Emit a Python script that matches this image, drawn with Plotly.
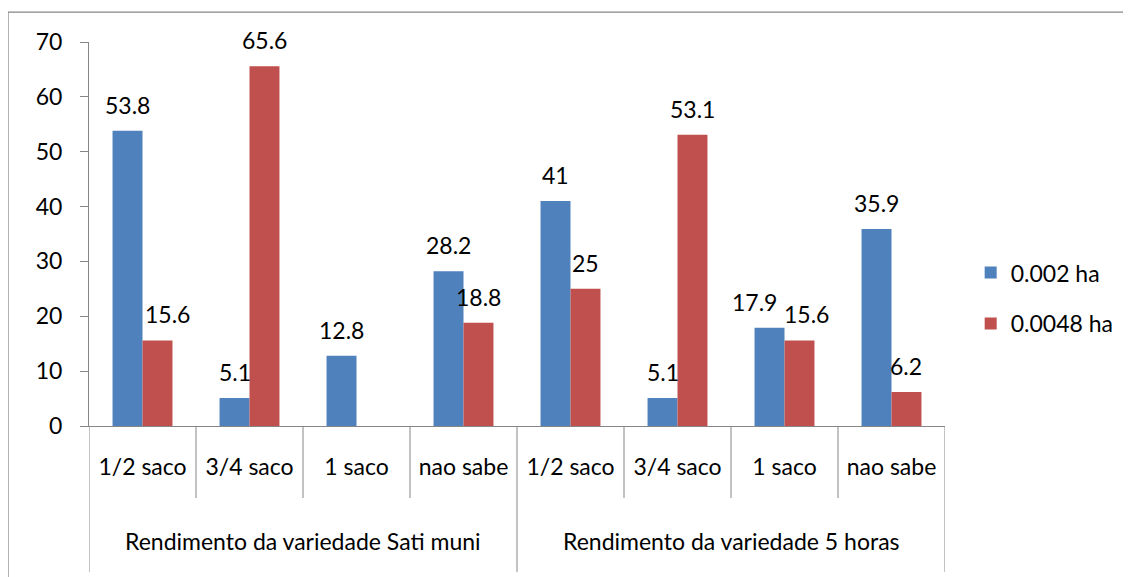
import plotly.graph_objects as go

groups = ["Rendimento da variedade Sati muni", "Rendimento da variedade 5 horas"]
subcats = ["1/2 saco", "3/4 saco", "1 saco", "nao sabe"] * 2
vals_002 = [53.8, 5.1, 12.8, 28.2, 41, 5.1, 17.9, 35.9]
vals_0048 = [15.6, 65.6, None, 18.8, 25, 53.1, 15.6, 6.2]
y_ticks = [0, 10, 20, 30, 40, 50, 60, 70]

FONT = "Lato"
FS = 23
GREY = "#868686"
BARGAP = 0.44
# sideways nudges (px) for labels that would otherwise collide, keyed by (series, category)
LABEL_NUDGE = {(0, 6): -15, (1, 6): 7, (1, 0): 10}

xs = list(range(len(subcats)))

fig = go.Figure()
fig.add_trace(go.Bar(x=xs, y=vals_002, name="0.002 ha", marker_color="#4F81BD",
                     legendgroup="a"))
fig.add_trace(go.Bar(x=xs, y=vals_0048, name="0.0048 ha", marker_color="#C0504D",
                     legendgroup="b"))
fig.update_traces(marker_line_width=0)

# data labels above each bar
annotations = []
half = (1 - BARGAP) / 4
for s, (vals, dx) in enumerate([(vals_002, -half), (vals_0048, half)]):
    for i, v in enumerate(vals):
        if v is None:
            continue
        annotations.append(dict(x=i + dx, y=v, xref="x", yref="y", text=f"{v:g}",
                                showarrow=False, yanchor="middle", yshift=26,
                                xshift=LABEL_NUDGE.get((s, i), 0),
                                font=dict(family=FONT, size=FS, color="black")))

# outer group labels
for g, name in enumerate(groups):
    annotations.append(dict(x=g * 4 + 1.5, y=-0.2995, xref="x", yref="paper", text=name,
                            showarrow=False, yanchor="middle",
                            font=dict(family=FONT, size=FS, color="black")))

# category dividers below the axis
shapes = []
for b in [0.5, 1.5, 2.5, 4.5, 5.5, 6.5]:
    shapes.append(dict(type="line", xref="x", yref="paper", x0=b, x1=b, y0=0, y1=-0.1875,
                       line=dict(color=GREY, width=1)))
for b in [-0.5, 3.5, 7.5]:
    shapes.append(dict(type="line", xref="x", yref="paper", x0=b, x1=b, y0=0, y1=-0.38,
                       line=dict(color=GREY, width=1)))
# chart frame
shapes.append(dict(type="rect", xref="paper", yref="paper",
                   x0=-0.0946, x1=1.6, y0=1.078, y1=-1.0,
                   line=dict(color=GREY, width=1.2), layer="below"))

fig.update_layout(
    width=1123, height=569,
    margin=dict(l=81, r=181, t=34, b=151),
    plot_bgcolor="white", paper_bgcolor="white",
    font=dict(family=FONT, size=FS, color="black"),
    barmode="group", bargap=BARGAP, bargroupgap=0,
    showlegend=True,
    legend=dict(x=1.03, y=0.333, yanchor="middle", xanchor="left",
                tracegroupgap=18, font=dict(size=FS)),
    xaxis=dict(range=[-0.5, 7.5], tickvals=xs, ticktext=subcats, showline=True,
               linecolor=GREY, linewidth=1, ticks="", ticklabelstandoff=20,
               showgrid=False, zeroline=False, automargin=False),
    yaxis=dict(range=[0, 70], tickvals=y_ticks, showline=True, linecolor=GREY,
               linewidth=1, ticks="outside", ticklen=8, tickcolor=GREY,
               ticklabelstandoff=13, showgrid=False, zeroline=False, automargin=False),
    annotations=annotations,
    shapes=shapes,
)

fig.write_html("out.html")
